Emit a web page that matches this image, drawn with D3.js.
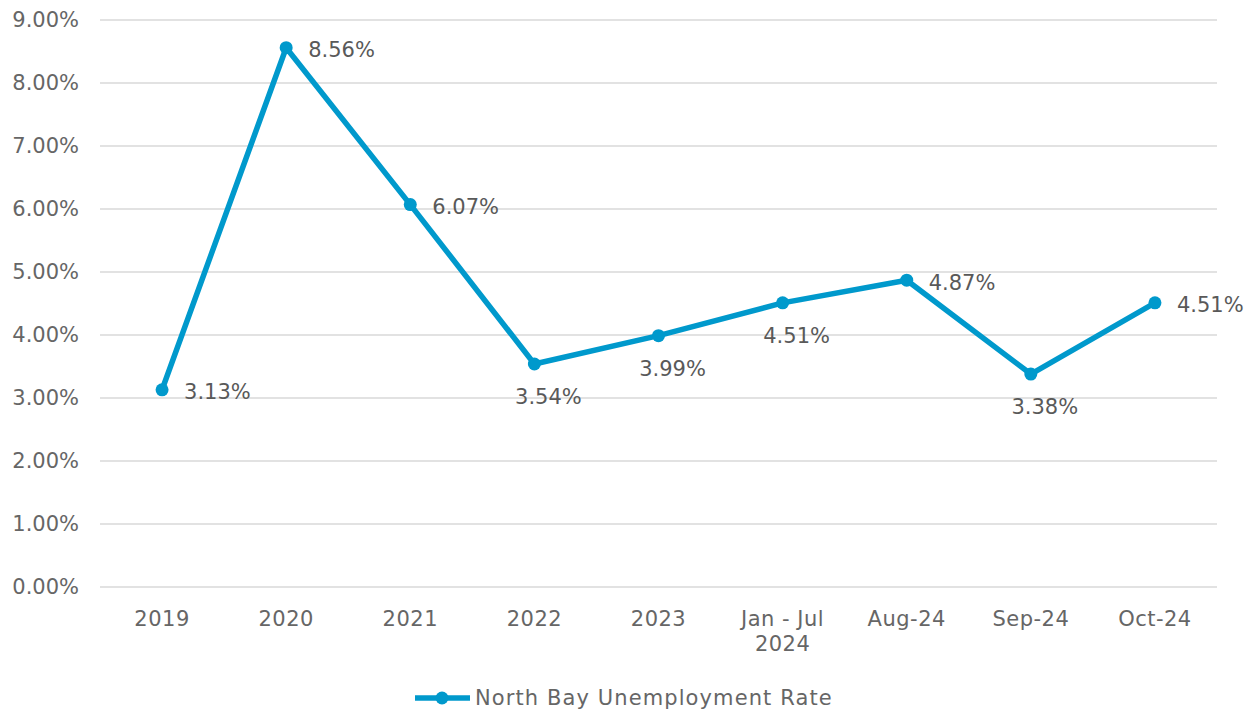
<!doctype html>
<html lang="en">
<head>
  <meta charset="utf-8">
  <title>North Bay Unemployment Rate</title>
  <script src="https://cdn.jsdelivr.net/npm/d3@7"></script>
  <style>
    body { margin: 0; background: #fff; }
    text { font-family: "DejaVu Sans", sans-serif; fill: #666; font-size: 21px; }
  </style>
</head>
<body>
  <div id="chart"></div>
  <script>
  var categories = ["2019", "2020", "2021", "2022", "2023", "Jan - Jul\n2024", "Aug-24", "Sep-24", "Oct-24"];
  var rates = [3.13, 8.56, 6.07, 3.54, 3.99, 4.51, 4.87, 3.38, 4.51];
  var labelSide = ["right", "right", "right", "below", "below", "below", "right", "below", "right"];
  var yTicks = [0, 1, 2, 3, 4, 5, 6, 7, 8, 9];
  var seriesName = "North Bay Unemployment Rate";

  var width = 1247, height = 714,
      plotLeft = 100, plotRight = 1217, plotTop = 20, plotBottom = 587,
      blue = "#0099cc";

  var svg = d3.select("#chart").append("svg")
    .attr("width", width).attr("height", height);

  var x = d3.scaleBand().domain(categories).range([plotLeft, plotRight]);
  var y = d3.scaleLinear().domain([0, 9]).range([plotBottom, plotTop]);
  var cx = function(i){ return x(categories[i]) + x.bandwidth() / 2; };

  // gridlines
  svg.append("g").selectAll("line")
    .data(yTicks).enter().append("line")
    .attr("x1", plotLeft).attr("x2", plotRight)
    .attr("y1", function(d){ return y(d); })
    .attr("y2", function(d){ return y(d); })
    .attr("stroke", "#d9d9d9").attr("stroke-width", 1.5);

  // y labels
  svg.append("g").selectAll("text")
    .data(yTicks).enter().append("text")
    .attr("x", 79).attr("y", function(d){ return y(d); })
    .attr("dy", "0.35em").attr("text-anchor", "end")
    .text(function(d){ return d.toFixed(2) + "%"; });

  // x labels
  var xl = svg.append("g").selectAll("text")
    .data(categories).enter().append("text")
    .attr("x", function(d){ return x(d) + x.bandwidth() / 2; })
    .attr("y", 626).attr("text-anchor", "middle")
    .style("letter-spacing", "0.5px");
  xl.each(function(d){
    var t = d3.select(this);
    d.split("\n").forEach(function(part, k){
      t.append("tspan").attr("x", t.attr("x")).attr("dy", k ? 25 : 0).text(part);
    });
  });

  // line
  var line = d3.line()
    .x(function(d, i){ return cx(i); })
    .y(function(d){ return y(d); });
  svg.append("path").datum(rates)
    .attr("d", line).attr("fill", "none")
    .attr("stroke", blue).attr("stroke-width", 5.5)
    .attr("stroke-linejoin", "round");

  svg.append("g").selectAll("circle")
    .data(rates).enter().append("circle")
    .attr("cx", function(d, i){ return cx(i); })
    .attr("cy", function(d){ return y(d); })
    .attr("r", 6.5).attr("fill", blue);

  // data labels
  svg.append("g").selectAll("text")
    .data(rates).enter().append("text")
    .attr("x", function(d, i){ return labelSide[i] == "right" ? cx(i) + 22 : cx(i) + 14; })
    .attr("y", function(d, i){ return labelSide[i] == "right" ? y(d) + 2 : y(d) + 33; })
    .attr("dy", "0.35em")
    .attr("text-anchor", function(d, i){ return labelSide[i] == "right" ? "start" : "middle"; })
    .style("fill", "#595959")
    .text(function(d){ return d.toFixed(2) + "%"; });

  // legend
  var lg = svg.append("g");
  lg.append("line").attr("x1", 415).attr("x2", 470).attr("y1", 698).attr("y2", 698)
    .attr("stroke", blue).attr("stroke-width", 5.5);
  lg.append("circle").attr("cx", 442).attr("cy", 698).attr("r", 6.5).attr("fill", blue);
  lg.append("text").attr("x", 475).attr("y", 698).attr("dy", "0.35em")
    .style("letter-spacing", "1.1px").text(seriesName);
  </script>
</body>
</html>
